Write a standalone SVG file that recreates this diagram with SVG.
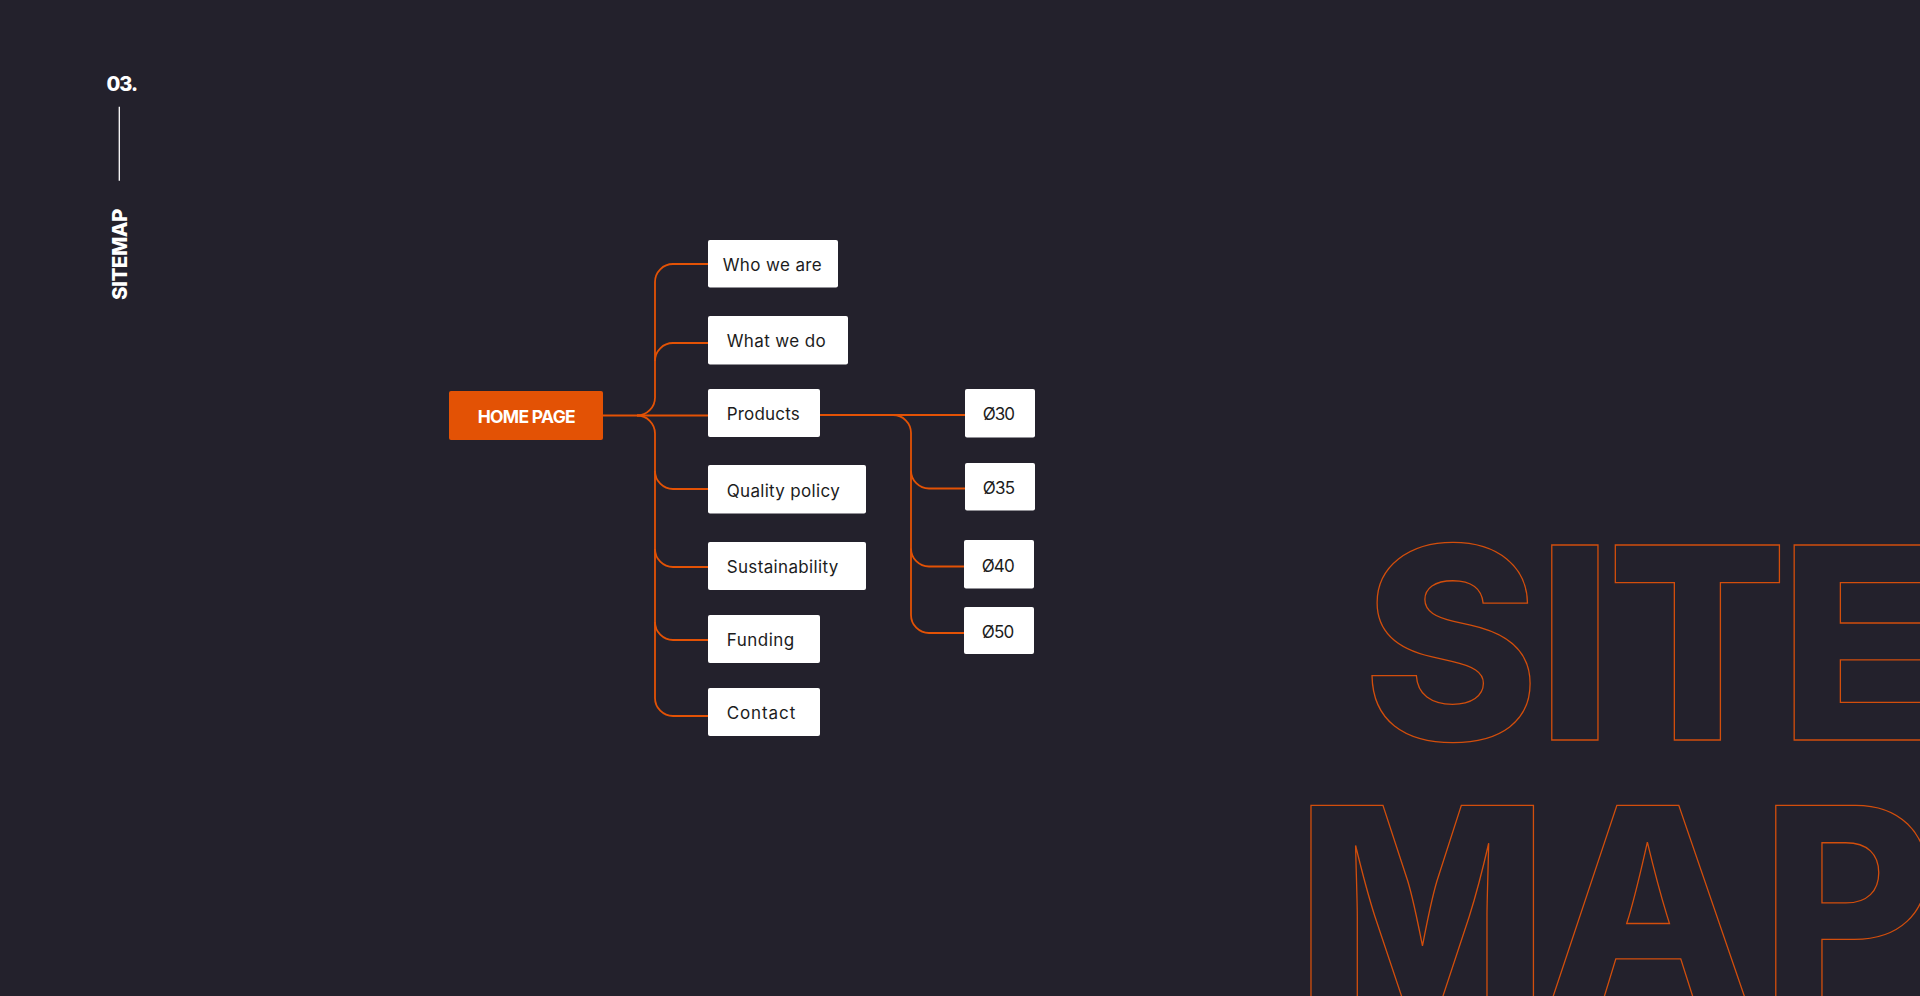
<svg xmlns="http://www.w3.org/2000/svg" width="1920" height="996" viewBox="0 0 1920 996">
<style>
.bg{fill:#23212c}
.box{fill:#ffffff}
.home{fill:#e35205}
.lbl{font-family:Inter,"Liberation Sans",sans-serif;font-size:17px;fill:#1c1c1c}
.hl{font-family:Inter,"Liberation Sans",sans-serif;font-size:17.5px;font-weight:700;fill:#ffffff}
.con{fill:none;stroke:#e35205;stroke-width:1.8}
.big{font-family:Inter,"Liberation Sans",sans-serif;font-size:268px;font-weight:800;fill:none;stroke:#d24e0c;stroke-width:1.3}
.side{font-family:Inter,"Liberation Sans",sans-serif;font-weight:800;fill:#ffffff}
</style>
<rect class="bg" x="0" y="0" width="1920" height="996"/>
<g id="bigtext">
<text class="big" x="1362.6 1536.6 1606.7 1779" y="740">SITE</text>
<text class="big" x="1295.8 1545.7 1760.6" y="1000.3">MAP</text>
</g>
<g id="side">
<text class="side" x="106.5" y="90.5" font-size="20" textLength="31.5">03.</text>
<line x1="119.3" y1="106.7" x2="119.3" y2="180.7" stroke="#ffffff" stroke-width="1.3"/>
<text class="side" font-size="20.5" transform="translate(126.7,300) rotate(-90)" x="0" y="0" textLength="91.5">SITEMAP</text>
</g>
<g id="connectors">
<path class="con" d="M603 415.5 H708"/>
<path class="con" d="M637 415.5 A18 18 0 0 0 655 397.5 V282 A18 18 0 0 1 673 264 H708"/>
<path class="con" d="M637 415.5 A18 18 0 0 1 655 433.5 V698 A18 18 0 0 0 673 716 H708"/>
<path class="con" d="M655 361 A18 18 0 0 1 673 343 H708"/>
<path class="con" d="M655 471 A18 18 0 0 0 673 489 H708"/>
<path class="con" d="M655 549 A18 18 0 0 0 673 567 H708"/>
<path class="con" d="M655 622 A18 18 0 0 0 673 640 H708"/>
<path class="con" d="M820 415 H965"/>
<path class="con" d="M893 415 A18 18 0 0 1 911 433 V615 A18 18 0 0 0 929 633 H964"/>
<path class="con" d="M911 470.5 A18 18 0 0 0 929 488.5 H965"/>
<path class="con" d="M911 548.5 A18 18 0 0 0 929 566.5 H964"/>
</g>
<g id="home">
<rect class="home" x="449" y="391" width="154" height="49" rx="2"/>
<text class="hl" x="477.7" y="422.5" textLength="98">HOME PAGE</text>
</g>
<g id="who">
<rect class="box" x="708" y="240" width="130" height="47.5" rx="2"/>
<text class="lbl" x="722.7" y="270.5" textLength="99">Who we are</text>
</g>
<g id="what">
<rect class="box" x="708" y="316" width="140" height="48.5" rx="2"/>
<text class="lbl" x="726.7" y="347" textLength="99">What we do</text>
</g>
<g id="products">
<rect class="box" x="708" y="389" width="112" height="48" rx="2"/>
<text class="lbl" x="726.7" y="420" textLength="73">Products</text>
</g>
<g id="quality">
<rect class="box" x="708" y="465" width="158" height="48.5" rx="2"/>
<text class="lbl" x="726.7" y="496.5" textLength="113">Quality policy</text>
</g>
<g id="sustainability">
<rect class="box" x="708" y="542" width="158" height="48" rx="2"/>
<text class="lbl" x="726.7" y="573" textLength="111.5">Sustainability</text>
</g>
<g id="funding">
<rect class="box" x="708" y="615" width="112" height="48" rx="2"/>
<text class="lbl" x="726.7" y="646" textLength="67.5">Funding</text>
</g>
<g id="contact">
<rect class="box" x="708" y="688" width="112" height="48" rx="2"/>
<text class="lbl" x="726.7" y="719" textLength="68.5">Contact</text>
</g>
<g id="d30">
<rect class="box" x="965" y="389" width="70" height="48.5" rx="2"/>
<text class="lbl" x="982.7" y="420" textLength="32.3">Ø30</text>
</g>
<g id="d35">
<rect class="box" x="965" y="463" width="70" height="47.5" rx="2"/>
<text class="lbl" x="982.7" y="494" textLength="32.3">Ø35</text>
</g>
<g id="d40">
<rect class="box" x="964" y="540" width="70" height="48.5" rx="2"/>
<text class="lbl" x="981.7" y="571.5" textLength="33">Ø40</text>
</g>
<g id="d50">
<rect class="box" x="964" y="607" width="70" height="47" rx="2"/>
<text class="lbl" x="981.7" y="637.5" textLength="32.5">Ø50</text>
</g>
</svg>
